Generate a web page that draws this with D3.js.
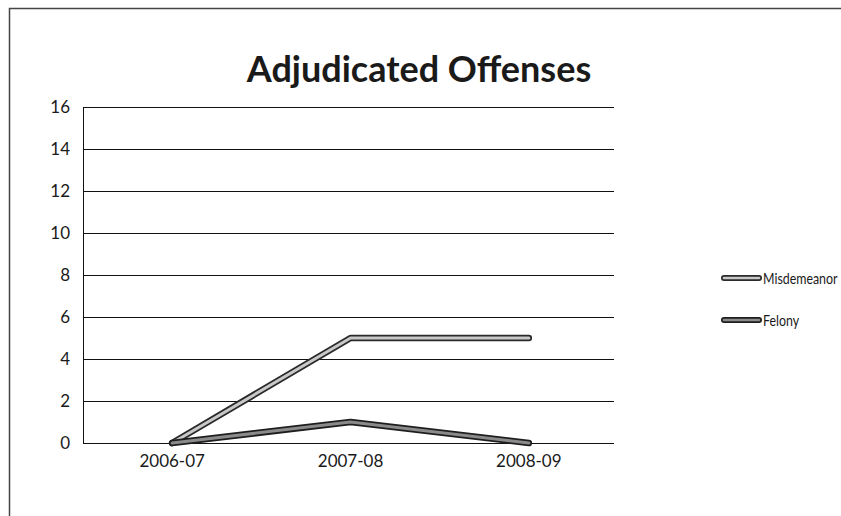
<!DOCTYPE html>
<html>
<head>
<meta charset="utf-8">
<script src="https://cdn.jsdelivr.net/npm/d3@7"></script>
<style>
  html, body { margin: 0; padding: 0; background: #fff; }
  svg { display: block; }
  text { font-family: Lato, "Open Sans", sans-serif; fill: #1a1a1a; }
</style>
</head>
<body>
<svg id="chart" width="841" height="516"></svg>
<script>
// Chart data
const categories = ["2006-07", "2007-08", "2008-09"];
const misdemeanor = [0, 5, 5];
const felony = [0, 1, 0];
const yTicks = [0, 2, 4, 6, 8, 10, 12, 14, 16];
const seriesNames = ["Misdemeanor", "Felony"];

const series = [
  { name: seriesNames[0], values: misdemeanor, outer: "#2a2a2a", inner: "#c8c8c8" },
  { name: seriesNames[1], values: felony, outer: "#1e1e1e", inner: "#8a8a8a" }
];

const svg = d3.select("#chart");

// Outer frame (left and top edges)
svg.append("path")
  .attr("d", "M9.5,516 L9.5,8.5 L841,8.5")
  .attr("fill", "none")
  .attr("stroke", "#444")
  .attr("stroke-width", 1.5);

// Title
svg.append("text")
  .attr("x", 419)
  .attr("y", 82)
  .attr("text-anchor", "middle")
  .style("font-size", "36px")
  .style("font-weight", "bold")
  .text("Adjudicated Offenses");

const plot = { left: 83, right: 618, top: 107, bottom: 443 };

const x = d3.scaleBand().domain(categories).range([plot.left, plot.right]);
const y = d3.scaleLinear().domain([0, 16]).range([plot.bottom, plot.top]);

// Horizontal gridlines
svg.append("g")
  .selectAll("line")
  .data(yTicks)
  .join("line")
  .attr("x1", plot.left)
  .attr("x2", 614)
  .attr("y1", d => Math.round(y(d)) + 0.5)
  .attr("y2", d => Math.round(y(d)) + 0.5)
  .attr("stroke", "#111")
  .attr("stroke-width", 1.1);

// Vertical axis line
svg.append("line")
  .attr("x1", plot.left + 0.5).attr("x2", plot.left + 0.5)
  .attr("y1", Math.round(y(16)) + 0.5).attr("y2", Math.round(y(0)) + 0.5)
  .attr("stroke", "#111");

// Y axis labels
const yAxis = d3.axisLeft(y).tickValues(yTicks).tickSize(0).tickPadding(13);
const gy = svg.append("g").attr("transform", `translate(${plot.left},0)`).call(yAxis);
gy.select(".domain").remove();
gy.selectAll("text").style("font-size", "17px").style("font-family", "Lato, 'Open Sans', sans-serif").attr("fill", "#1a1a1a");

// X axis labels
const xAxis = d3.axisBottom(x).tickSize(0).tickPadding(12);
const gx = svg.append("g").attr("transform", `translate(0,${plot.bottom})`).call(xAxis);
gx.select(".domain").remove();
gx.selectAll("text").style("font-size", "17px").style("font-family", "Lato, 'Open Sans', sans-serif").attr("fill", "#1a1a1a");

// Series lines: dark outline with lighter core
const line = d3.line()
  .x((d, i) => x(categories[i]) + x.bandwidth() / 2)
  .y(d => y(d));

const gLines = svg.append("g");
series.forEach(s => {
  gLines.append("path")
    .attr("d", line(s.values))
    .attr("fill", "none")
    .attr("stroke", s.outer)
    .attr("stroke-width", 6.5)
    .attr("stroke-linejoin", "round")
    .attr("stroke-linecap", "round");
  gLines.append("path")
    .attr("d", line(s.values))
    .attr("fill", "none")
    .attr("stroke", s.inner)
    .attr("stroke-width", 3)
    .attr("stroke-linejoin", "round")
    .attr("stroke-linecap", "round");
});

// Legend (labels narrowed horizontally to fit the right margin)
const legend = svg.append("g");
const legendY = d3.scalePoint().domain(seriesNames).range([278, 320]);
series.forEach(s => {
  const ly = legendY(s.name);
  legend.append("line")
    .attr("x1", 724).attr("x2", 759).attr("y1", ly).attr("y2", ly)
    .attr("stroke", s.outer).attr("stroke-width", 6).attr("stroke-linecap", "round");
  legend.append("line")
    .attr("x1", 724).attr("x2", 759).attr("y1", ly).attr("y2", ly)
    .attr("stroke", s.inner).attr("stroke-width", 2.6).attr("stroke-linecap", "round");
  legend.append("text")
    .attr("transform", `translate(763,${ly}) scale(0.8,1)`)
    .attr("dy", "0.36em")
    .style("font-size", "15.5px")
    .text(s.name);
});
</script>
</body>
</html>
